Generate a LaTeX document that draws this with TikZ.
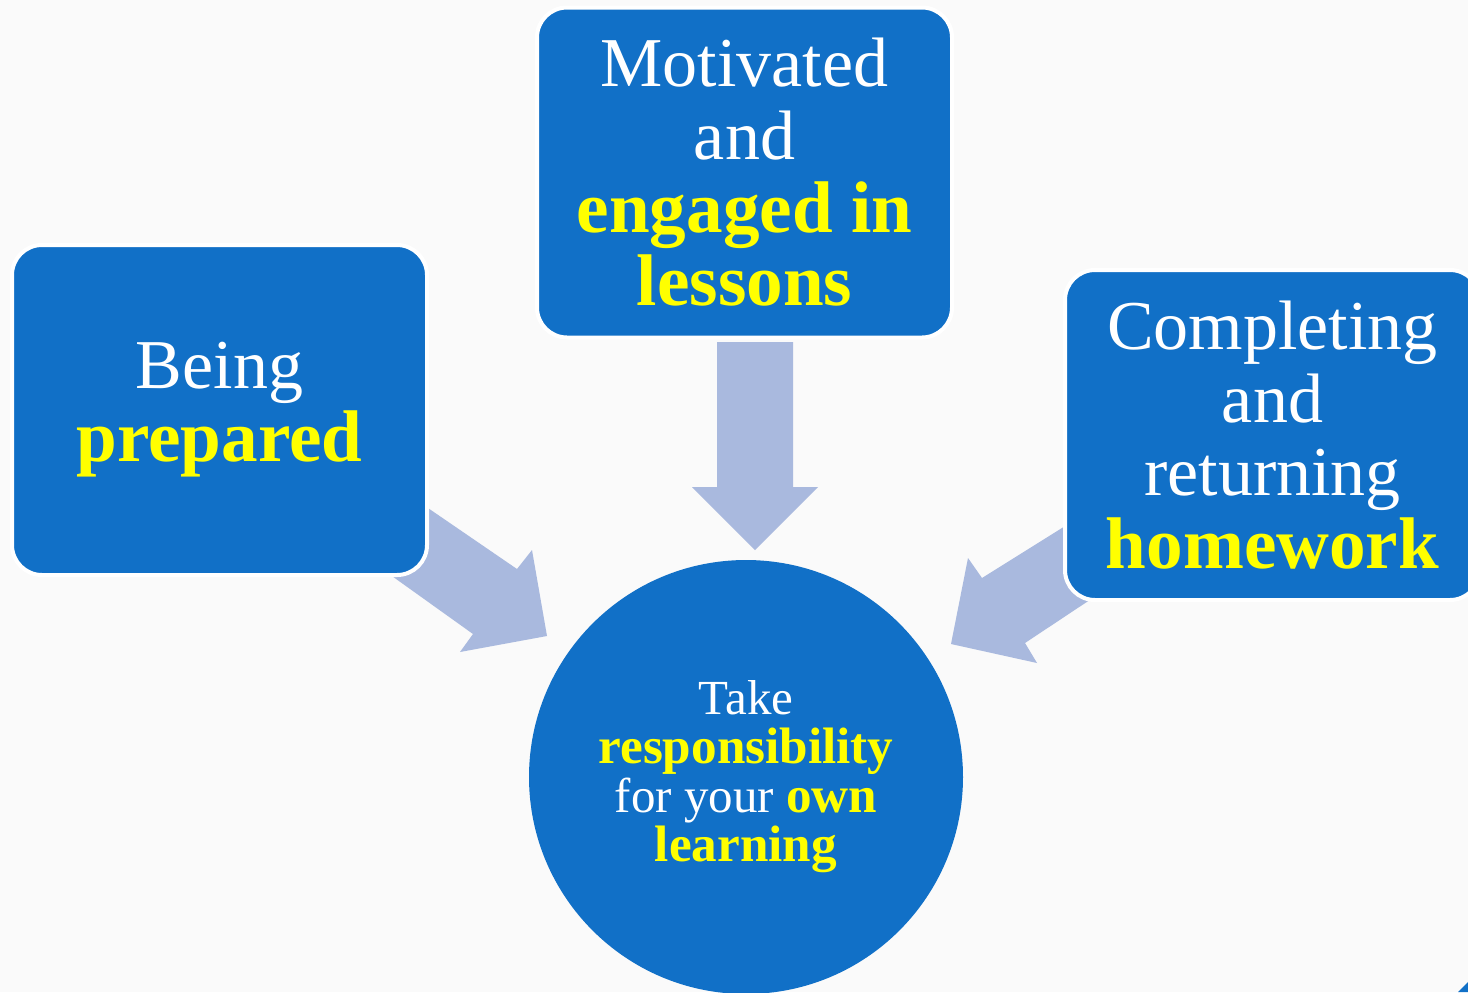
\documentclass[tikz,border=0pt]{standalone}
\usepackage{fontspec}
\setmainfont{Liberation Serif}[BoldFeatures={Scale=1.045}]
\definecolor{boxblue}{HTML}{1170C7}
\definecolor{arrowblue}{HTML}{A9B9DE}
\definecolor{hiyellow}{HTML}{FFFF00}
\newcommand{\yel}[1]{\textbf{\color{hiyellow}#1}}
\begin{document}
\begin{tikzpicture}[x=0.5pt,y=-0.5pt,
box/.style={draw=white,line width=2pt,fill=boxblue,rounded corners=15pt,text=white,align=center,minimum width=207.5pt,minimum height=165pt,inner sep=0pt,font=\fontsize{35}{36.5}\selectfont},
hub/.style={fill=boxblue,circle,minimum size=217pt,inner sep=0pt,text=white,align=center,font=\fontsize{24.5}{24.5}\selectfont},
blockarrow/.style={fill=arrowblue}]
\fill[black!2](0,0)rectangle(1468,992);
\useasboundingbox(0,0)rectangle(1468,992);
\fill[blockarrow](717,342)--(793,342)--(793,487)--(818,487)--(755,550)--(692,487)--(717,487)--cycle;
\fill[blockarrow](371,469)--(517,569)--(532,550)--(547,636)--(460,652)--(473,634)--(336,536)--cycle;
\fill[blockarrow](1126,488)--(982,578)--(968,558)--(951,644)--(1037,663)--(1025,643)--(1147,562)--cycle;
\node[box](prep)at(219.5,410){Being\\\yel{prepared}};
\node[box](motiv)at(744.5,172.5){Motivated\\and\\\yel{engaged in}\\\yel{lessons}};
\node[box](homew)at(1272.5,435){Completing\\and\\returning\\\yel{homework}};
\node[hub](resp)at(746,777){Take\\\yel{responsibility}\\for your \yel{own}\\\yel{learning}};
\fill[boxblue](1458,992)--(1468,982)--(1468,992)--cycle;
\end{tikzpicture}
\end{document}
